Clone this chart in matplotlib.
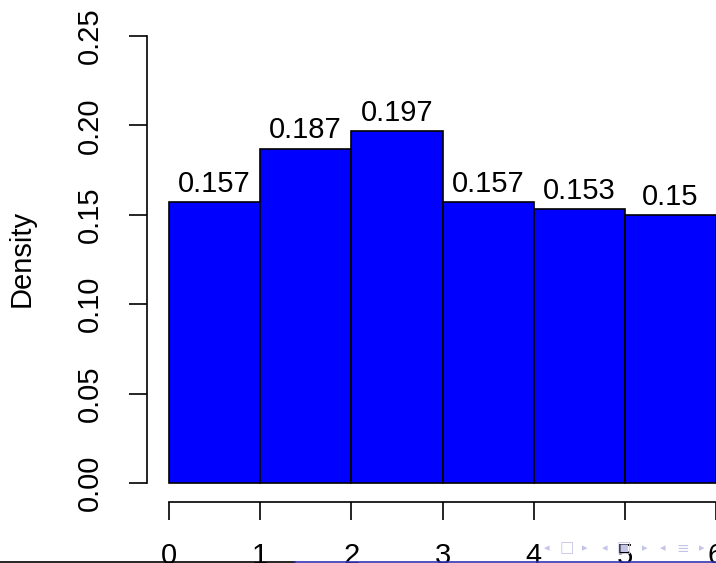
import matplotlib
matplotlib.use("Agg")
import matplotlib.pyplot as plt
from matplotlib.lines import Line2D

plt.rcParams['font.family'] = ['Liberation Sans', 'DejaVu Sans']

bin_edges = [0, 1, 2, 3, 4, 5, 6]
densities = [0.157, 0.187, 0.197, 0.157, 0.153, 0.150]
bar_labels = ["0.157", "0.187", "0.197", "0.157", "0.153", "0.15"]
y_ticks = [0.00, 0.05, 0.10, 0.15, 0.20, 0.25]
y_ticklabels = ["0.00", "0.05", "0.10", "0.15", "0.20", "0.25"]
x_ticks = [0, 1, 2, 3, 4, 5, 6]
x_ticklabels = ["0", "1", "2", "3", "4", "5", "6"]
nav_symbols = ["◂", "□", "▸", "◂", "▣", "▸", "◂", "≡", "▸"]
nav_x = [547, 567, 585, 605, 624, 645, 663, 683, 702]

W, H = 716, 563
fig = plt.figure(figsize=(W / 100, H / 100), dpi=100)
# axes: x 0..6 -> px 169..716, y 0..0.25 -> px 483..36
ax = fig.add_axes([169 / W, (H - 483) / H, (716 - 169) / W, (483 - 36) / H])
ax.set_xlim(0, 6)
ax.set_ylim(0, 0.25)

lefts = bin_edges[:-1]
widths = [bin_edges[i + 1] - bin_edges[i] for i in range(len(lefts))]
ax.bar(lefts, densities, width=widths, align='edge', color='#0000FF',
       edgecolor='black', linewidth=1.2, clip_on=False)

fs = 21
for l, w, d, lab in zip(lefts, widths, densities, bar_labels):
    ax.annotate(lab, (l + w / 2, d), xytext=(0, 3), textcoords='offset points',
                ha='center', va='bottom', fontsize=fs, color='black')

for s in ['top', 'right']:
    ax.spines[s].set_visible(False)
ax.spines['left'].set_position(('outward', 22 * 0.72))
ax.spines['bottom'].set_position(('outward', 19 * 0.72))
ax.spines['left'].set_bounds(0, 0.25)
ax.spines['bottom'].set_bounds(0, 6)
for s in ['left', 'bottom']:
    ax.spines[s].set_linewidth(1.2)

ax.set_yticks(y_ticks)
ax.set_yticklabels(y_ticklabels, rotation=90, va='center')
ax.set_xticks(x_ticks)
ax.set_xticklabels(x_ticklabels)
ax.tick_params(axis='both', length=18 * 0.72, width=1.2, labelsize=fs,
               direction='out')
ax.tick_params(axis='y', pad=25 * 0.72)
ax.tick_params(axis='x', pad=22 * 0.72)

fig.text(22 / W, 1 - 258 / H, "Density", rotation=90, ha='center', va='center',
         fontsize=fs)

# beamer footline
fig.add_artist(Line2D([0, 295 / W], [1.5 / H, 1.5 / H], color='black', lw=1.2,
                      transform=fig.transFigure))
fig.add_artist(Line2D([295 / W, 1], [1.5 / H, 1.5 / H], color='#3333B3', lw=1.2,
                      transform=fig.transFigure))
# navigation symbols
for sym, xp in zip(nav_symbols, nav_x):
    big = sym in ("□", "▣", "≡")
    fig.text(xp / W, 1 - 548 / H, sym, fontsize=11 if big else 8,
             color='#C4C4E8', ha='center', va='center', family=['DejaVu Sans'])

fig.savefig("out.png", dpi=100)
